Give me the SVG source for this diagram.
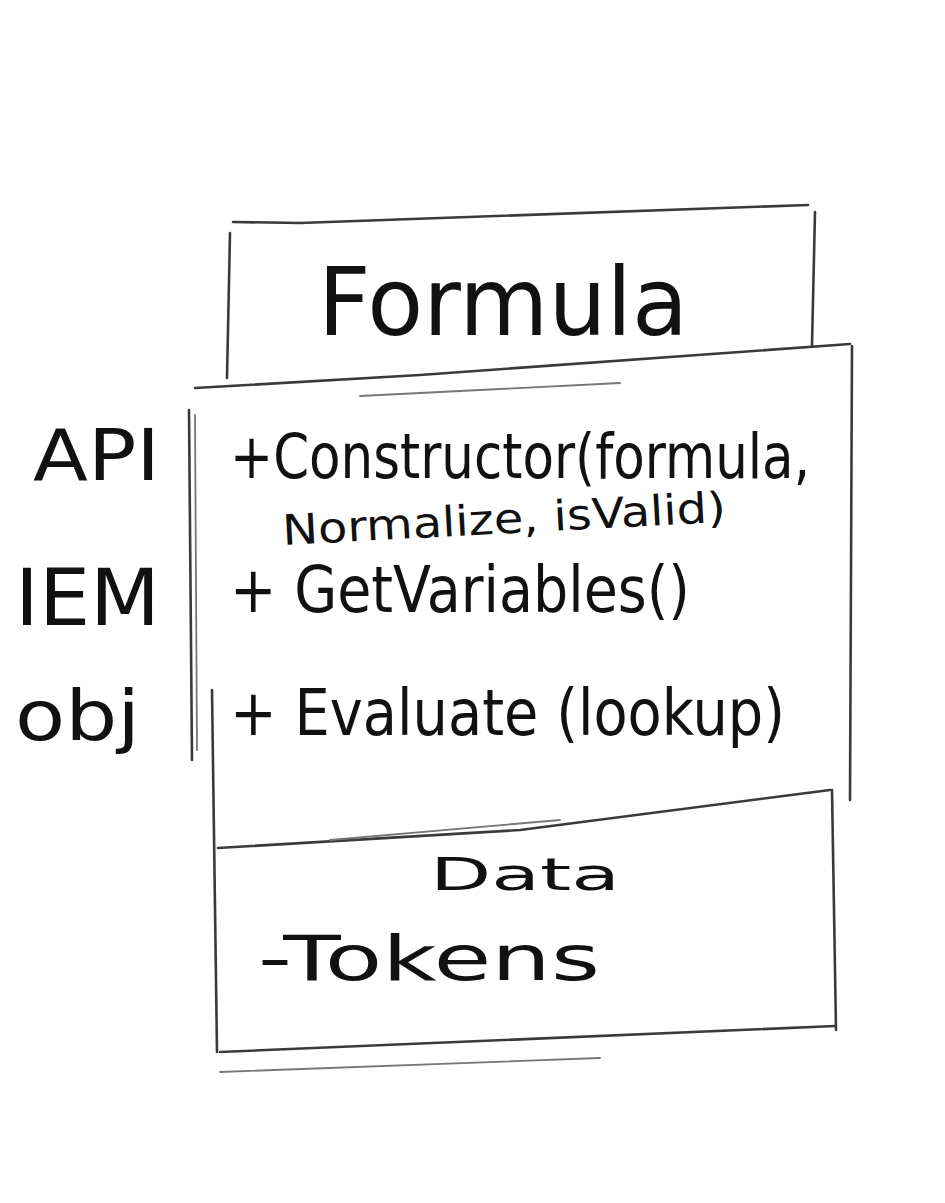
<svg xmlns="http://www.w3.org/2000/svg" width="945" height="1203" viewBox="0 0 945 1203">
<style>
.ln{fill:none;stroke:#3a3a3a;stroke-width:2.6;stroke-linecap:round;stroke-linejoin:round}
.lt{fill:none;stroke:#777;stroke-width:1.8;stroke-linecap:round}
.t{font-family:"DejaVu Sans","Liberation Sans",sans-serif;fill:#111;font-weight:normal}
</style>
<rect width="945" height="1203" fill="#fff"/>
<g id="connectors">
  <!-- Formula header box -->
  <path class="ln" d="M233,222 L300,223 L440,218 L808,205"/>
  <path class="ln" d="M230,233 L227,378"/>
  <path class="ln" d="M815,212 L812,345"/>
  <path class="ln" d="M195,388 L420,375 L850,344"/>
  <path class="lt" d="M360,396 L620,383"/>
  <!-- main box -->
  <path class="ln" d="M189,410 L192,760"/>
  <path class="lt" d="M195,415 L197,750"/>
  <path class="ln" d="M212,690 L217,1052"/>
  <path class="ln" d="M852,346 L850,800"/>
  <path class="ln" d="M832,790 L836,1030"/>
  <path class="ln" d="M218,848 L520,830 L830,790"/>
  <path class="lt" d="M330,840 L560,820"/>
  <path class="ln" d="M220,1052 L835,1026"/>
  <path class="lt" d="M220,1072 L600,1058"/>
</g>
<g id="title">
  <text class="t" x="318" y="335" font-size="95" textLength="370" lengthAdjust="spacingAndGlyphs">Formula</text>
</g>
<g id="labels">
  <text class="t" x="33" y="480" font-size="72" textLength="127" lengthAdjust="spacingAndGlyphs">API</text>
  <text class="t" x="15" y="625" font-size="78" textLength="145" lengthAdjust="spacingAndGlyphs">IEM</text>
  <text class="t" x="15" y="740" font-size="70" textLength="125" lengthAdjust="spacingAndGlyphs">obj</text>
</g>
<g id="methods">
  <text class="t" x="230" y="478" font-size="62" textLength="580" lengthAdjust="spacingAndGlyphs">+Constructor(formula,</text>
  <text class="t" x="283" y="545" font-size="42" textLength="444" lengthAdjust="spacingAndGlyphs" transform="rotate(-3 283 545)">Normalize, isValid)</text>
  <text class="t" x="230" y="612" font-size="64" textLength="460" lengthAdjust="spacingAndGlyphs">+ GetVariables()</text>
  <text class="t" x="230" y="735" font-size="64" textLength="555" lengthAdjust="spacingAndGlyphs">+ Evaluate (lookup)</text>
</g>
<g id="data">
  <text class="t" x="430" y="890" font-size="45" textLength="190" lengthAdjust="spacingAndGlyphs">Data</text>
  <text class="t" x="258" y="980" font-size="62" textLength="342" lengthAdjust="spacingAndGlyphs">-Tokens</text>
</g>
</svg>
